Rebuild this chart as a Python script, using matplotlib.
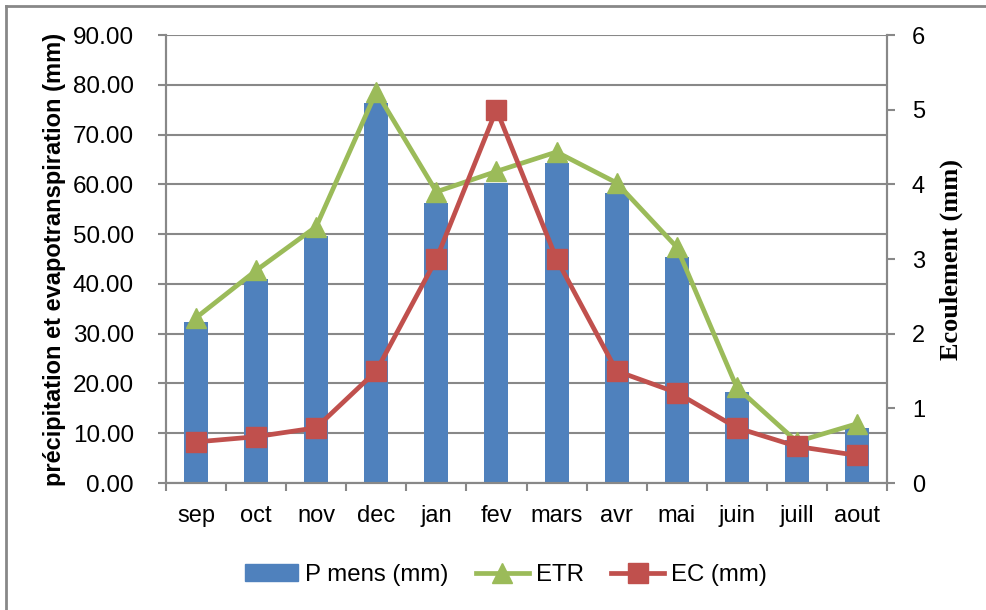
import matplotlib
matplotlib.use("Agg")
import matplotlib.pyplot as plt
from matplotlib.lines import Line2D
import numpy as np

months = ["sep", "oct", "nov", "dec", "jan", "fev", "mars", "avr", "mai", "juin", "juill", "aout"]
p_mens = [32.4, 40.9, 49.6, 76.3, 56.3, 60.2, 64.3, 58.3, 45.4, 18.2, 8.6, 11.1]
etr = [33.2, 42.7, 51.5, 78.6, 58.5, 62.6, 66.5, 60.3, 47.4, 19.2, 8.3, 11.9]
ec = [0.55, 0.62, 0.74, 1.50, 3.00, 5.00, 3.00, 1.50, 1.21, 0.74, 0.49, 0.37]

BLUE = "#4F81BD"
GREEN = "#9BBB59"
RED = "#C0504D"
GRID = "#888888"
FONT = "Liberation Sans"

W, H = 986, 610
fig = plt.figure(figsize=(W / 100, H / 100), dpi=100)
ax = fig.add_axes([166 / W, 1 - 483 / H, (887 - 166) / W, (483 - 35) / H])
ax2 = ax.twinx()

x = np.arange(len(months))
ax.bar(x, p_mens, width=0.4, color=BLUE, zorder=2)
ax.plot(x, etr, color=GREEN, lw=3.4, marker="^", ms=14, zorder=3)
ax2.plot(x, ec, color=RED, lw=3.4, marker="s", ms=14, zorder=3)

ax.set_xlim(-0.5, len(months) - 0.5)
ax.set_ylim(0, 90)
ax.set_yticks(np.arange(0, 91, 10))
ax.set_yticklabels([f"{v:.2f}" for v in np.arange(0, 91, 10)], family=FONT, fontsize=17.5)
ax2.set_ylim(0, 6)
ax2.set_yticks(range(7))
ax2.set_yticklabels([str(v) for v in range(7)], family=FONT, fontsize=17)

ax.set_xticks(x)
ax.set_xticklabels(months, family=FONT, fontsize=17)
ax.tick_params(axis="x", length=0, pad=16)
ax.set_xticks(np.arange(-0.5, len(months)), minor=True)
ax.tick_params(axis="x", which="minor", length=6, width=1.5, color=GRID, direction="out")
ax.tick_params(axis="y", length=6, width=1.5, color=GRID, pad=17)
ax2.tick_params(axis="y", length=6, width=1.5, color=GRID, pad=12)

ax.grid(axis="y", color=GRID, lw=1.5, zorder=0)
ax.set_axisbelow(True)
for a in (ax, ax2):
    a.spines["top"].set_visible(False)
    for s in ("left", "right", "bottom"):
        a.spines[s].set_color(GRID)
        a.spines[s].set_linewidth(1.5)
ax2.set_zorder(ax.get_zorder() + 1)
ax2.patch.set_visible(False)

ax.set_ylabel("précipitation et evapotranspiration (mm)", family=FONT, fontsize=17,
              fontweight="bold", va="center")
ax.yaxis.set_label_coords((55 - 166) / 721, 0.5)
ax2.set_ylabel("Ecoulement (mm)", family="Liberation Serif", fontsize=19,
               fontweight="bold", va="center")
ax2.yaxis.set_label_coords((951 - 166) / 721, 0.5)

handles = [
    plt.Rectangle((0, 0), 1, 1, color=BLUE),
    Line2D([], [], color=GREEN, lw=3.4, marker="^", ms=14),
    Line2D([], [], color=RED, lw=3.4, marker="s", ms=14),
]
fig.legend(handles, ["P mens (mm)", "ETR", "EC (mm)"], loc="center",
           bbox_to_anchor=(506 / W, 1 - 575 / H), ncol=3, frameon=False,
           prop={"family": FONT, "size": 17.3}, handlelength=2.2, handletextpad=0.3,
           columnspacing=1.15)

# chart border (only top and left visible in the reference)
fig.add_artist(Line2D([6 / W, 1], [1 - 6 / H] * 2, color=GRID, lw=2, transform=fig.transFigure))
fig.add_artist(Line2D([6 / W] * 2, [0, 1 - 6 / H], color=GRID, lw=2, transform=fig.transFigure))

fig.savefig("out.png", dpi=100)
